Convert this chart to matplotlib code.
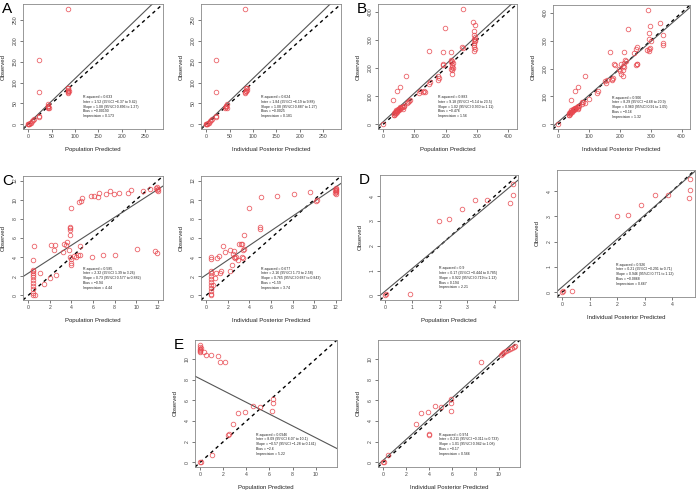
import numpy as np
import matplotlib
matplotlib.use("Agg")
import matplotlib.pyplot as plt

plt.rcParams['font.family'] = ['Liberation Sans', 'DejaVu Sans']

# ---------------- data ----------------
A_pop_x = [0, 0.5, 1, 2, 3, 5, 8, 10, 12, 23, 23, 23, 23, 42, 42, 43, 43, 44, 43, 85, 85, 85, 86, 86, 85, 87, 85]
A_pop_y = [0, 0.5, 1, 2, 3, 4, 7, 10, 12, 18, 21, 77, 155, 38, 42, 45, 48, 40, 44, 74, 77, 80, 83, 86, 88, 79, 277]
A_ind_x = [0, 0.5, 1, 2, 3, 5, 8, 10, 12, 21, 22, 22, 22, 41, 42, 43, 44, 45, 43, 82, 84, 86, 87, 88, 85, 86, 82]
A_ind_y = [0, 0.5, 1, 2, 3, 4, 7, 10, 12, 18, 20, 77, 155, 38, 42, 45, 48, 40, 44, 74, 77, 80, 83, 86, 88, 79, 277]

B_pop_x = [0, 33, 44, 55, 72, 148, 190, 197, 217, 254, 252, 255,
           287, 292, 291, 290, 292, 290, 292, 290, 291, 290, 292, 290, 293,
           219, 220, 218, 221, 219, 222, 220, 218, 216, 222,
           190, 191, 176, 177, 176, 150, 148, 130, 133, 128, 118, 116,
           82, 85, 76, 80,
           35, 36, 38, 40, 42, 45, 48, 50, 53, 55, 58, 60, 63, 65, 38, 40, 44, 50, 52, 47, 36, 62, 68]
B_pop_y = [2, 88, 119, 134, 172, 260, 258, 343, 257, 411, 275, 270,
           365, 353, 330, 318, 310, 302, 295, 288, 282, 275, 268, 262, 300,
           180, 192, 198, 205, 212, 218, 224, 228, 222, 200,
           215, 210, 170, 163, 158, 150, 145, 118, 114, 116, 120, 112,
           82, 86, 76, 78,
           35, 40, 44, 46, 50, 48, 52, 55, 58, 60, 58, 62, 60, 65, 38, 42, 45, 50, 54, 56, 32, 55, 66]
B_ind_x = [0, 41, 55, 66, 87, 168, 215, 227, 290, 331, 298, 293,
           295, 300, 340, 340, 340, 289, 293, 298, 294,
           255, 253, 255, 254, 256, 246,
           205, 210, 215, 220, 218, 210, 200, 205, 210, 198, 212,
           180, 186, 176, 177, 175, 155, 160, 152, 130, 127, 100,
           82, 86, 76, 78,
           35, 37, 39, 41, 43, 46, 49, 51, 54, 56, 59, 61, 64, 66, 38, 40, 45, 50, 52, 48, 36, 63, 69]
B_ind_y = [2, 88, 119, 134, 172, 260, 258, 343, 411, 364, 352, 328,
           305, 300, 319, 290, 284, 265, 270, 275, 262,
           276, 271, 218, 212, 215, 255,
           215, 210, 220, 228, 232, 195, 190, 180, 172, 200, 205,
           215, 212, 162, 166, 158, 150, 160, 155, 118, 114, 92,
           80, 76, 72, 82,
           35, 40, 44, 46, 50, 48, 52, 55, 58, 60, 58, 62, 60, 65, 38, 42, 45, 50, 54, 56, 32, 55, 66]

C_pop_x = [0.45, 0.45, 0.45, 0.45, 0.45, 0.45, 0.45, 0.45, 0.45, 0.45, 0.45, 0.45, 0.55, 0.6,
           1.1, 1.5, 2.0, 2.1, 2.4, 2.5, 2.6, 3.2, 3.3, 3.5, 3.6, 3.8, 3.9, 3.9, 3.9, 3.9, 4.0,
           3.9, 3.95, 3.95, 4.0, 4.2, 4.4, 4.6, 4.8, 4.8, 4.7, 4.9, 5.0, 5.8, 6.1, 6.5, 6.6, 7.2,
           7.6, 7.9, 8.4, 9.2, 9.5, 10.6, 11.3, 11.8, 11.9, 12.0, 12.0, 11.9,
           5.9, 6.9, 8.0, 10.1, 11.7, 11.9]
C_pop_y = [0, 0.3, 0.7, 1.0, 1.3, 1.6, 1.9, 2.1, 2.3, 2.5, 2.7, 3.7, 5.2, 0,
           2.35, 1.2, 1.8, 5.3, 4.7, 5.3, 2.1, 4.5, 5.4, 5.3, 5.6, 4.7, 6.3, 6.8, 7.0, 7.2, 9.1,
           4.0, 3.4, 3.15, 3.8, 4.1, 4.0, 4.2, 4.2, 5.2, 9.8, 9.9, 10.2, 10.4, 10.4, 10.25, 10.7, 10.6,
           10.9, 10.6, 10.7, 10.75, 11.0, 10.9, 11.1, 11.2, 11.0, 10.9, 11.1, 11.3,
           4.0, 4.2, 4.2, 4.8, 4.6, 4.4]
C_ind_x = [0.48, 0.48, 0.48, 0.48, 0.48, 0.48, 0.48, 0.48, 0.48, 0.48, 0.48, 0.48,
           0.6, 0.8, 0.9, 1.0, 1.2, 1.3, 1.4, 1.6, 1.7, 2.2, 2.2, 2.4, 2.5, 2.6, 2.7, 2.8, 2.9,
           3.0, 3.2, 3.3, 3.4, 3.5, 3.5, 3.4, 3.3, 2.6, 4.0, 5.0, 5.0, 5.1, 6.6, 8.1, 9.6, 10.2, 10.3,
           12.0, 12.0, 12.0, 12.0, 12.0, 12.0, 11.95, 11.95]
C_ind_y = [0, 0.1, 0.5, 0.8, 1.1, 1.4, 1.7, 2.0, 2.3, 2.6, 3.8, 4.0,
           1.1, 1.8, 2.3, 3.9, 4.1, 2.3, 2.5, 5.2, 4.5, 4.7, 2.5, 3.2, 4.3, 4.6, 3.9, 4.0, 3.7,
           5.4, 5.4, 5.4, 4.7, 4.8, 6.3, 3.9, 4.0, 4.0, 9.1, 6.9, 7.1, 10.3, 10.4, 10.6, 10.8, 9.9, 10.0,
           10.6, 10.8, 10.9, 11.0, 11.1, 11.2, 10.75, 11.05]

D_pop_x = [0, 0.02, 0.9, 1.97, 2.33, 2.8, 3.27, 3.73, 4.57, 4.67, 4.67]
D_pop_y = [0, 0.05, 0.04, 3.0, 3.07, 3.47, 3.84, 3.86, 3.73, 4.03, 4.48]
D_ind_x = [0, 0.02, 0.36, 1.99, 2.38, 2.87, 3.38, 3.87, 4.62, 4.65, 4.64]
D_ind_y = [0, 0.05, 0.04, 3.0, 3.07, 3.47, 3.84, 3.86, 3.73, 4.03, 4.48]

E_pop_x = [0, 0.03, 0, 0, 0, 0, 0, 0, 0.05, 0.3, 0.53, 0.9, 1.5, 1.68, 2.18,
           1.03, 2.38, 2.53, 2.8, 3.3, 3.9, 4.53, 5.15, 6.24, 6.3, 6.35]
E_pop_y = [0, 0.05, 11.4, 11.2, 11.0, 10.9, 10.8, 10.65, 11.1, 10.7, 10.4, 10.4, 10.3, 9.7, 9.7,
           0.71, 2.62, 2.72, 3.69, 4.79, 4.89, 5.47, 5.37, 4.95, 6.1, 5.73]
E_ind_x = [0, 0.05, 0.39, 2.85, 3.3, 3.89, 3.95, 3.95, 4.45, 4.98, 5.85, 5.88, 5.88, 8.49,
           10.2, 10.3, 10.4, 10.5, 10.6, 10.8, 11.0, 11.2, 11.3, 11.4]
E_ind_y = [0, 0.05, 0.72, 3.72, 4.8, 4.9, 2.62, 2.75, 5.49, 5.39, 6.14, 5.72, 4.97, 9.7,
           10.4, 10.5, 10.6, 10.7, 10.8, 10.9, 11.0, 11.1, 11.2, 11.3]

# regression intercepts / slopes
intercepts = [1.52, 1.84, 9.18, 8.29, 2.32, 2.16, 0.17, 0.21, 8.09, 0.211]
slopes = [1.08, 1.08, 1.02, 0.96, 0.73, 0.765, 0.922, 0.946, -0.57, 1.01]

stats_text = [
    ["R-squared = 0.633", "Inter = 1.52 (95%CI \u22126.37 to 9.42)", "Slope = 1.08 (95%CI 0.896 to 1.27)", "Bias = \u22120.00190", "Imprecision = 0.173"],
    ["R-squared = 0.624", "Inter = 1.84 (95%CI \u22126.19 to 9.88)", "Slope = 1.08 (95%CI 0.887 to 1.27)", "Bias = \u22120.0025", "Imprecision = 0.181"],
    ["R-squared = 0.883", "Inter = 9.18 (95%CI \u22125.14 to 23.5)", "Slope = 1.02 (95%CI 0.930 to 1.11)", "Bias = \u22120.476", "Imprecision = 1.56"],
    ["R-squared = 0.906", "Inter = 8.29 (95%CI \u22124.68 to 20.9)", "Slope = 0.960 (95%CI 0.91 to 1.05)", "Bias = \u22120.16", "Imprecision = 1.32"],
    ["R-squared = 0.585", "Inter = 2.32 (95%CI 1.39 to 3.26)", "Slope = 0.73 (95%CI 0.577 to 0.882)", "Bias = \u22120.94", "Imprecision = 4.44"],
    ["R-squared = 0.677", "Inter = 2.16 (95%CI 1.73 to 2.58)", "Slope = 0.765 (95%CI 0.687 to 0.843)", "Bias = \u22121.59", "Imprecision = 3.74"],
    ["R-squared = 0.9", "Inter = 0.17 (95%CI \u22120.444 to 0.785)", "Slope = 0.922 (95%CI 0.719 to 1.13)", "Bias = 0.194", "Imprecision = 2.21"],
    ["R-squared = 0.926", "Inter = 0.21 (95%CI \u22120.291 to 0.71)", "Slope = 0.946 (95%CI 0.771 to 1.12)", "Bias = \u22120.0868", "Imprecision = 0.667"],
    ["R-squared = 0.0946", "Inter = 8.09 (95%CI 6.07 to 10.1)", "Slope = \u22120.57 (95%CI \u22121.28 to 0.141)", "Bias = \u22122.6", "Imprecision = 5.22"],
    ["R-squared = 0.974", "Inter = 0.211 (95%CI \u22120.311 to 0.733)", "Slope = 1.01 (95%CI 0.942 to 1.08)", "Bias = \u22120.17", "Imprecision = 0.566"],
]

xlabels = ["Population Predicted", "Individual Posterior Predicted"] * 5
panel_letters = ["A", None, "B", None, "C", None, "D", None, "E", None]
ticks = [np.arange(0, 251, 50)] * 2 + [np.arange(0, 401, 100)] * 2 + [np.arange(0, 13, 2)] * 2 + \
        [np.arange(0, 5, 1)] * 2 + [np.arange(0, 11, 2)] * 2

xs = [A_pop_x, A_ind_x, B_pop_x, B_ind_x, C_pop_x, C_ind_x, D_pop_x, D_ind_x, E_pop_x, E_ind_x]
ys = [A_pop_y, A_ind_y, B_pop_y, B_ind_y, C_pop_y, C_ind_y, D_pop_y, D_ind_y, E_pop_y, E_ind_y]

# axes boxes in pixels: left, right, top, bottom
W, H = 696, 492
boxes = [
    (23, 163, 4, 129), (201, 341, 4, 129), (378, 517, 4, 129), (553, 690, 5, 129),
    (23, 163, 176, 300), (201, 341, 176, 300), (380, 518, 175, 300), (557, 695, 170, 297),
    (195, 337, 340, 467), (378, 520, 340, 467),
]

fig = plt.figure(figsize=(W / 100, H / 100), dpi=100)
fig.patch.set_facecolor("white")

red = "#e8484f"
for i in range(10):
    l, r, t, b = boxes[i]
    ax = fig.add_axes([l / W, 1 - b / H, (r - l) / W, (b - t) / H])
    x = np.array(xs[i], float)
    y = np.array(ys[i], float)
    lo = min(x.min(), y.min())
    hi = max(x.max(), y.max())
    pad = 0.04 * (hi - lo)
    ax.set_xlim(lo - pad, hi + pad)
    ax.set_ylim(lo - pad, hi + pad)
    ax.plot(x, y, 'o', mfc='none', mec=red, mew=0.6, ms=3.3, alpha=0.85, zorder=3)
    ax.axline((0, 0), slope=1, color='black', lw=1.0, ls=(0, (2.5, 2.5)), zorder=2)
    ax.axline((0, intercepts[i]), slope=slopes[i], color='#555555', lw=0.8, zorder=2)
    ax.set_xticks(ticks[i])
    ax.set_yticks(ticks[i])
    ax.tick_params(labelsize=3.7, length=2, width=0.5, pad=1.5, colors='#444444')
    for lab in ax.get_yticklabels():
        lab.set_rotation(90)
        lab.set_va('center')
    for s in ax.spines.values():
        s.set_linewidth(0.6)
        s.set_color('#888888')
    ax.set_xlabel(xlabels[i], fontsize=4.3, labelpad=6, color='#222222')
    ax.set_ylabel("Observed", fontsize=4.3, labelpad=5, color='#222222')
    ax.text(0.43, 0.27, "\n".join(stats_text[i]), transform=ax.transAxes,
            fontsize=2.5, va='top', ha='left', linespacing=1.25, color='#222222')
    if panel_letters[i]:
        fig.text((l - 21) / W, 1 - (t - 2) / H, panel_letters[i], fontsize=11,
                 va='top', ha='left')

fig.savefig("out.png", dpi=100)
